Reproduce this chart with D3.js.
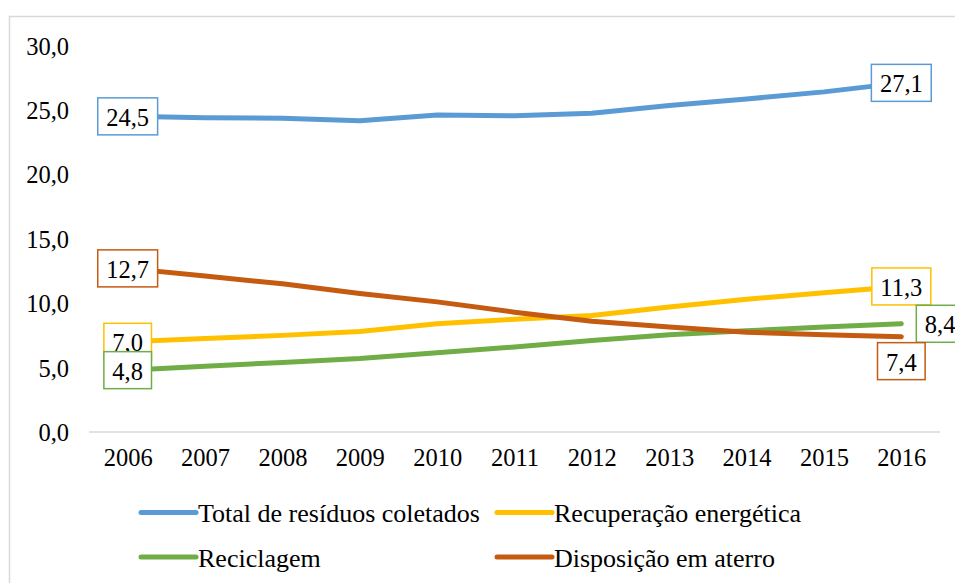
<!DOCTYPE html>
<html>
<head>
<meta charset="utf-8">
<script src="https://cdn.jsdelivr.net/npm/d3@7"></script>
</head>
<body style="margin:0">
<svg id="chart" width="955" height="583"></svg>
<script>
const years = ["2006","2007","2008","2009","2010","2011","2012","2013","2014","2015","2016"];
const yTicks = [0, 5, 10, 15, 20, 25, 30];
const seriesNames = ["Total de resíduos coletados", "Recuperação energética", "Reciclagem", "Disposição em aterro"];
const totalColetados = [24.5, 24.4, 24.35, 24.15, 24.6, 24.55, 24.75, 25.35, 25.85, 26.4, 27.1];
const recuperacao   = [7.0, 7.25, 7.5, 7.8, 8.4, 8.75, 9.05, 9.7, 10.3, 10.8, 11.3];
const reciclagem    = [4.8, 5.1, 5.4, 5.7, 6.15, 6.6, 7.1, 7.55, 7.85, 8.15, 8.4];
const disposicao    = [12.7, 12.1, 11.5, 10.75, 10.1, 9.3, 8.6, 8.15, 7.75, 7.55, 7.4];
const colors = ["#5B9BD5", "#FFC000", "#70AD47", "#C55A11"];

const seriesValues = [totalColetados, recuperacao, reciclagem, disposicao];
const labelPos = [["c","c"],["c","c"],["c","r"],["c","b"]];

const FONT = "'Liberation Serif'";
const FS = 24.5;
const LFS = 26;

const svg = d3.select("#chart");
const fmt = v => d3.format(".1f")(v).replace(".", ",");

svg.append("rect").attr("x", 9.5).attr("y", 16.5).attr("width", 960).attr("height", 600)
  .attr("fill", "none").attr("stroke", "#d9d9d9").attr("stroke-width", 1.5);

const x = d3.scalePoint().domain(years).range([89, 940]).padding(0.5);
const y = d3.scaleLinear().domain([0, 30]).range([432, 45.5]);

svg.append("line").attr("x1", 89).attr("x2", 940).attr("y1", y(0)).attr("y2", y(0))
  .attr("stroke", "#d9d9d9").attr("stroke-width", 1.5);

const yAxis = d3.axisLeft(y).tickValues(yTicks).tickFormat(fmt).tickSize(0).tickPadding(0);
const yg = svg.append("g").attr("transform", "translate(69,0)").call(yAxis);
yg.select(".domain").remove();
yg.selectAll("text").style("font-family", FONT).style("font-size", FS + "px").attr("fill", "#000").attr("dy", "0.35em");

const xAxis = d3.axisBottom(x).tickSize(0).tickPadding(0);
const xg = svg.append("g").attr("transform", `translate(0,${y(0)})`).call(xAxis);
xg.select(".domain").remove();
xg.selectAll("text").style("font-family", FONT).style("font-size", FS + "px").attr("fill", "#000")
  .attr("dy", null).attr("y", 28).attr("dominant-baseline", "middle");

const line = d3.line().x((d, i) => x(years[i])).y(d => y(d));
seriesValues.forEach((vals, s) => {
  svg.append("path").datum(vals).attr("d", line)
    .attr("fill", "none").attr("stroke", colors[s]).attr("stroke-width", 5)
    .attr("stroke-linecap", "round").attr("stroke-linejoin", "round");
});

const labelLayer = svg.append("g");
function addLabel(s, idx, pos) {
  const v = seriesValues[s][idx];
  const px = x(years[idx]), py = y(v);
  const g = labelLayer.append("g");
  const t = g.append("text").text(fmt(v)).style("font-family", FONT).style("font-size", FS + "px")
    .attr("fill", "#000").attr("text-anchor", "middle").attr("dominant-baseline", "central");
  const w = t.node().getComputedTextLength() + 17, h = 37;
  let cx = px, cy = py;
  if (pos === "r") cx = px + 15 + w / 2;
  if (pos === "b") cy = py + 6 + h / 2;
  g.insert("rect", "text").attr("x", cx - w / 2).attr("y", cy - h / 2).attr("width", w).attr("height", h)
    .attr("fill", "#fff").attr("stroke", colors[s]).attr("stroke-width", 1.5);
  t.attr("x", cx).attr("y", cy + 1);
}
seriesValues.forEach((vals, s) => {
  addLabel(s, 0, labelPos[s][0]);
  addLabel(s, vals.length - 1, labelPos[s][1]);
});

const legendPos = [[141, 512.5], [497, 512.5], [141, 557], [497, 557]];
seriesNames.forEach((name, s) => {
  const [lx, ly] = legendPos[s];
  svg.append("line").attr("x1", lx).attr("x2", lx + 55).attr("y1", ly).attr("y2", ly)
    .attr("stroke", colors[s]).attr("stroke-width", 5).attr("stroke-linecap", "round");
  svg.append("text").attr("x", lx + 57).attr("y", ly + 1).text(name)
    .style("font-family", FONT).style("font-size", LFS + "px").attr("fill", "#000")
    .attr("dominant-baseline", "central");
});
</script>
</body>
</html>
